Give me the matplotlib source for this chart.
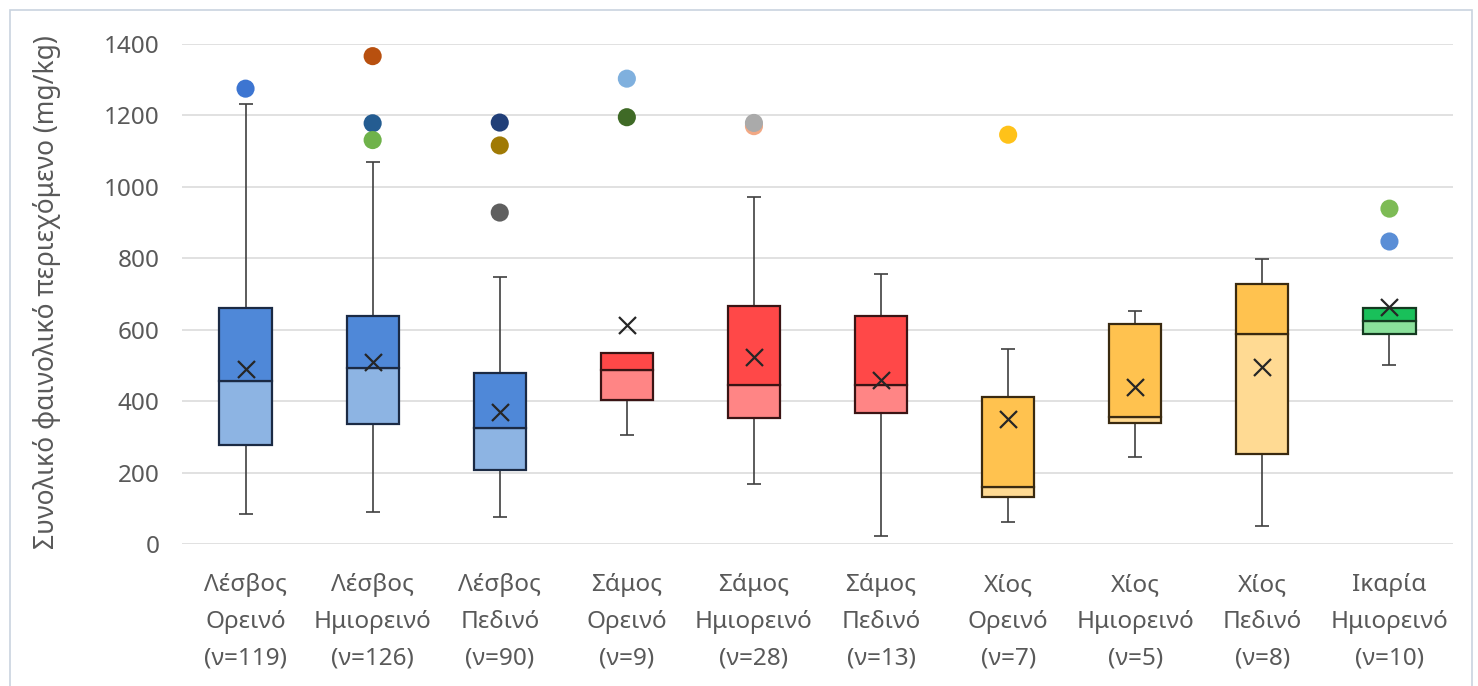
import matplotlib
matplotlib.use("Agg")
import matplotlib.pyplot as plt
from matplotlib.patches import Rectangle

plt.rcParams['font.family'] = ['Noto Sans', 'DejaVu Sans']

categories = ["Λέσβος\nΟρεινό\n(ν=119)", "Λέσβος\nΗμιορεινό\n(ν=126)", "Λέσβος\nΠεδινό\n(ν=90)",
              "Σάμος\nΟρεινό\n(ν=9)", "Σάμος\nΗμιορεινό\n(ν=28)", "Σάμος\nΠεδινό\n(ν=13)",
              "Χίος\nΟρεινό\n(ν=7)", "Χίος\nΗμιορεινό\n(ν=5)", "Χίος\nΠεδινό\n(ν=8)",
              "Ικαρία\nΗμιορεινό\n(ν=10)"]
whisker_low = [85, 89, 77, 304, 168, 22, 61, 244, 51, 502]
q1 = [278, 335, 207, 403, 352, 366, 132, 338, 253, 587]
median = [456, 494, 326, 488, 446, 444, 160, 355, 588, 625]
q3 = [662, 638, 478, 535, 667, 638, 413, 615, 728, 662]
whisker_high = [1231, 1070, 748, 535, 973, 756, 545, 652, 798, 662]
means = [489, 511, 369, 614, 524, 460, 349, 441, 496, 663]
outliers = [[1275], [1366, 1178, 1131], [1180, 1116, 928], [1303, 1195],
            [1170, 1179], [], [1146], [], [], [939, 847]]
outlier_colors = [["#3D75D1"], ["#B8500F", "#245C91", "#6FB24A"], ["#213F78", "#A07A05", "#5F5F5F"],
                  ["#7FB0DE", "#3F6A26"], ["#F2A884", "#AAAAAA"], [], ["#FFC219"], [], [],
                  ["#7DBB55", "#5A8ED6"]]
upper_colors = ["#4F88D8"] * 3 + ["#FF4848"] * 3 + ["#FFC24F"] * 3 + ["#19C05A"]
lower_colors = ["#8DB4E3"] * 3 + ["#FF8585"] * 3 + ["#FFDA93"] * 3 + ["#8BE19C"]
edge_colors = ["#1B2A44"] * 3 + ["#3A1414"] * 3 + ["#3A2A10"] * 3 + ["#143A20"]
y_label = "Συνολικό φαινολικό περιεχόμενο (mg/kg)"

W, H = 1478, 686
fig = plt.figure(figsize=(W / 100, H / 100), dpi=100)
fig.patches.append(Rectangle((10 / W, -0.01), (1472 - 10) / W, (H - 10) / H + 0.01,
                             transform=fig.transFigure, fill=False,
                             edgecolor="#C9D3DF", linewidth=1.2))
ax = fig.add_axes([182 / W, (H - 544) / H, (1453 - 182) / W, (544 - 44) / H])

n = len(categories)
pos = list(range(n))
bw = 0.41
cap = 0.11

ax.bar(pos, [m - a for m, a in zip(median, q1)], bottom=q1, width=bw,
       color=lower_colors, edgecolor=edge_colors, linewidth=1.6, zorder=3)
ax.bar(pos, [b - m for b, m in zip(q3, median)], bottom=median, width=bw,
       color=upper_colors, edgecolor=edge_colors, linewidth=1.6, zorder=3)
ax.vlines(pos, whisker_low, q1, color="#404040", linewidth=1.2, zorder=2)
ax.vlines(pos, q3, whisker_high, color="#404040", linewidth=1.2, zorder=2)
ax.hlines(whisker_low, [p - cap / 2 for p in pos], [p + cap / 2 for p in pos],
          color="#404040", linewidth=1.2, zorder=2)
ax.hlines(whisker_high, [p - cap / 2 for p in pos], [p + cap / 2 for p in pos],
          color="#404040", linewidth=1.2, zorder=2)
ax.scatter(pos, means, marker="x", s=150, color="#262626", linewidths=1.6, zorder=5)
for p, vals, cols in zip(pos, outliers, outlier_colors):
    if vals:
        ax.scatter([p] * len(vals), vals, s=170, c=cols, edgecolors="none", zorder=4)

ax.set_xlim(-0.5, n - 0.5)
ax.set_ylim(0, 1400)
ax.set_yticks(range(0, 1401, 200))
ax.set_xticks(pos)
ax.set_xticklabels(categories, linespacing=1.69)
ax.grid(axis="y", color="#D9D9D9", linewidth=1.1, zorder=0)
ax.set_axisbelow(True)
for s in ax.spines.values():
    s.set_visible(False)
ax.tick_params(axis="both", length=0, labelsize=17.5, colors="#595959")
ax.tick_params(axis="y", pad=16)
ax.tick_params(axis="x", pad=21)
fig.text(47 / W, (H - 292) / H, y_label, rotation=90, ha="center", va="center",
         fontsize=19, color="#595959")

fig.savefig("out.png", dpi=100)
